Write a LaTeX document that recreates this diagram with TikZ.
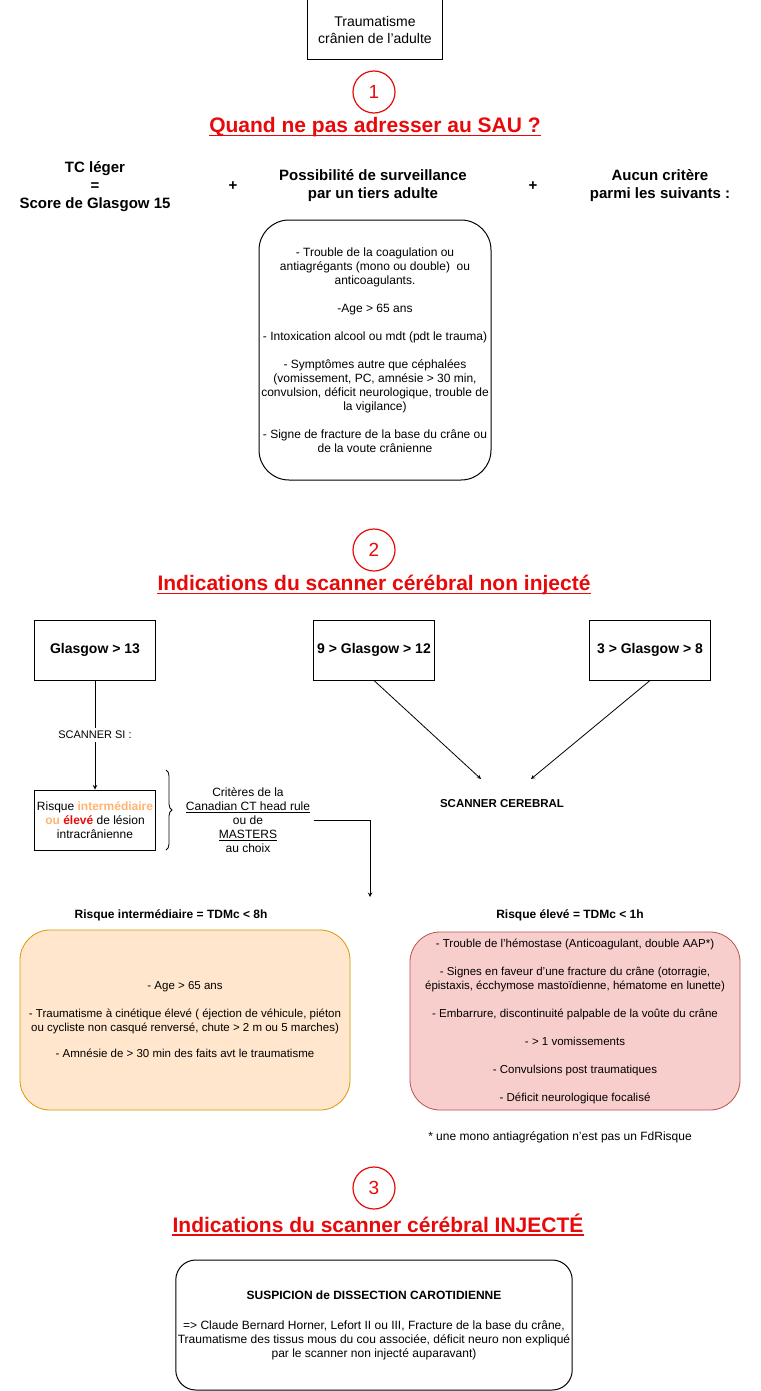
\documentclass[tikz,border=0pt]{standalone}
\usepackage{fontspec}
\setmainfont{Liberation Sans}
\usetikzlibrary{decorations.pathreplacing}
\definecolor{rouge}{RGB}{232,10,10}
\definecolor{orfond}{HTML}{FFE6CC}
\definecolor{ortrait}{HTML}{D79B00}
\definecolor{ortexte}{HTML}{FFB570}
\definecolor{rgfond}{HTML}{F8CECC}
\definecolor{rgtrait}{HTML}{B85450}
\tikzset{
  cadre/.style={draw,line width=1pt,align=center,inner sep=2pt},
  num/.style={circle,draw=rouge,line width=1.2pt,text=rouge,minimum size=42pt,inner sep=0pt,font=\fontsize{19}{20}\selectfont},
  titre/.style={text=rouge,inner xsep=0pt,font=\fontsize{21}{24}\selectfont\bfseries},
  crit/.style={align=center,font=\fontsize{15}{18}\selectfont\bfseries},
  txt/.style={align=center,font=\fontsize{12}{14}\selectfont},
  hdr/.style={align=center,font=\fontsize{12}{14}\selectfont\bfseries},
  gbox/.style={cadre,minimum width=121pt,minimum height=60pt,font=\fontsize{14}{16}\selectfont\bfseries},
  liste/.style={cadre,rounded corners=30pt,font=\fontsize{12}{14}\selectfont},
}
\begin{document}
\begin{tikzpicture}[x=1pt,y=-1pt,>=stealth]
	\useasboundingbox[fill=white] (0,0) rectangle (760,1391);
	% 1
	\node[cadre,minimum width=135pt,minimum height=60pt,font=\fontsize{14}{17}\selectfont] (tc) at (375,30) {Traumatisme\\crânien de l'adulte};
	\node[num] (n1) at (374,92) {1};
	\node[titre] (t1) at (375,127) {Quand ne pas adresser au SAU ?};
	\draw[rouge,line width=1.5pt] ([yshift=-3pt]t1.base west)--([yshift=-3pt]t1.base east);
	\node[crit] (leger) at (95,187) {TC léger\\=\\Score de Glasgow 15};
	\node[crit] (plusA) at (233,186) {+};
	\node[crit] (tiers) at (373,186) {Possibilité de surveillance\\par un tiers adulte};
	\node[crit] (plusB) at (533,186) {+};
	\node[crit] (aucun) at (660,186) {Aucun critère\\parmi les suivants :};
	\node[liste,minimum width=232pt,minimum height=260pt] (suivants) at (375,350) {- Trouble de la coagulation ou\\antiagrégants (mono ou double)\ \ ou\\anticoagulants.\\[14pt]-Age > 65 ans\\[14pt]- Intoxication alcool ou mdt (pdt le trauma)\\[14pt]- Symptômes autre que céphalées\\(vomissement, PC, amnésie > 30 min,\\convulsion, déficit neurologique, trouble de\\la vigilance)\\[14pt]- Signe de fracture de la base du crâne ou\\de la voute crânienne};
	% 2
	\node[num] (n2) at (374,550) {2};
	\node[titre] (t2) at (374,585) {Indications du scanner cérébral non injecté\ };
	\draw[rouge,line width=1.5pt] ([yshift=-3pt]t2.base west)--([yshift=-3pt]t2.base east);
	\node[gbox] (gA) at (95,650) {Glasgow > 13};
	\node[gbox] (gB) at (374,650) {9 > Glasgow > 12};
	\node[gbox] (gC) at (650,650) {3 > Glasgow > 8};
	\node[cadre,minimum width=121pt,minimum height=60pt,font=\fontsize{12}{14}\selectfont] (risque) at (95,820) {Risque \textcolor{ortexte}{\bfseries intermédiaire}\\\textcolor{ortexte}{\bfseries ou} \textcolor{rouge}{\bfseries élevé} de lésion\\intracrânienne};
	\draw[->,line width=1pt] (gA)--node[txt,fill=white,font=\fontsize{11}{14}\selectfont]{SCANNER SI :}(risque);
	\draw[decorate,decoration={brace,amplitude=6pt},line width=0.8pt] (166,770)--(166,850);
	\node[txt] (regles) at (248,820) {Critères de la\\\underline{Canadian CT head rule}\\ou de\\\underline{MASTERS}\\au choix};
	\coordinate (fin) at (370,897);
	\draw[->,line width=1pt] (regles.east)-|(fin);
	\node[hdr,font=\fontsize{11.5}{14}\selectfont\bfseries] (scan) at (502,804) {SCANNER CEREBRAL};
	\coordinate (scanA) at (481,779);
	\coordinate (scanB) at (531,779);
	\draw[->,line width=0.8pt] (gB.south)--(scanA);
	\draw[->,line width=0.8pt] (gC.south)--(scanB);
	\node[hdr] (inter) at (171,915) {Risque intermédiaire = TDMc < 8h};
	\node[hdr] (eleve) at (570,915) {Risque élevé = TDMc < 1h};
	\node[liste,draw=ortrait,fill=orfond,line width=0.8pt,minimum width=330pt,minimum height=180pt,font=\fontsize{11.5}{14}\selectfont] (listeA) at (185,1020) {- Age > 65 ans\\[14pt]- Traumatisme à cinétique élevé ( éjection de véhicule, piéton\\ou cycliste non casqué renversé, chute > 2 m ou 5 marches)\\[12pt]- Amnésie de > 30 min des faits avt le traumatisme};
	\node[liste,draw=rgtrait,fill=rgfond,line width=0.8pt,minimum width=330pt,minimum height=178pt,font=\fontsize{11.5}{14}\selectfont] (listeB) at (575,1021) {- Trouble de l'hémostase (Anticoagulant, double AAP*)\\[14pt]- Signes en faveur d'une fracture du crâne (otorragie,\\épistaxis, écchymose mastoïdienne, hématome en lunette)\\[14pt]- Embarrure, discontinuité palpable de la voûte du crâne\\[14pt]- > 1 vomissements\\[14pt]- Convulsions post traumatiques\\[14pt]- Déficit neurologique focalisé};
	\node[txt] (note) at (560,1137) {* une mono antiagrégation n'est pas un FdRisque};
	% 3
	\node[num] (n3) at (374,1188) {3};
	\node[titre] (t3) at (378,1223) {Indications du scanner cérébral INJECTÉ};
	\draw[rouge,line width=1.5pt] ([yshift=-3pt]t3.base west)--([yshift=-3pt]t3.base east);
	\node[cadre,rounded corners=20pt,minimum width=396pt,minimum height=130pt,font=\fontsize{12}{14}\selectfont] (dissection) at (374,1325) {\bfseries SUSPICION de DISSECTION CAROTIDIENNE\\[16pt]=> Claude Bernard Horner, Lefort II ou III, Fracture de la base du crâne,\\Traumatisme des tissus mous du cou associée, déficit neuro non expliqué\\par le scanner non injecté auparavant)};
\end{tikzpicture}
\end{document}
